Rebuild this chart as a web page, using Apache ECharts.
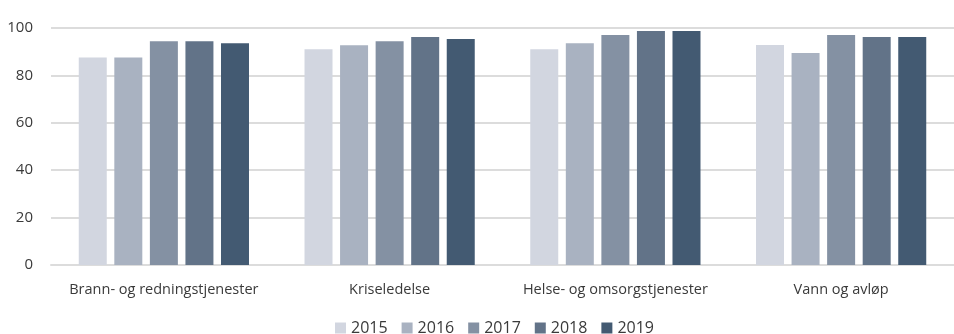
<!DOCTYPE html>
<html><head><meta charset="utf-8">
<script src="https://cdn.jsdelivr.net/npm/echarts@6/dist/echarts.min.js"></script>
<style>html,body{margin:0;padding:0;background:#fff}#c{width:954px;height:334px}</style>
</head><body><div id="c"></div>
<script>
const categories = ['Brann- og redningstjenester', 'Kriseledelse', 'Helse- og omsorgstjenester', 'Vann og avløp'];
const years = ['2015', '2016', '2017', '2018', '2019'];
const v2015 = [87.6, 91.0, 91.0, 92.8];
const v2016 = [87.6, 92.7, 93.6, 89.4];
const v2017 = [94.4, 94.4, 97.0, 97.0];
const v2018 = [94.4, 96.2, 98.7, 96.2];
const v2019 = [93.6, 95.4, 98.7, 96.2];
const yTicks = [0, 20, 40, 60, 80, 100];
const colors = ['#d2d6e0', '#a9b2c1', '#8491a3', '#627388', '#435a72'];
const values = [v2015, v2016, v2017, v2018, v2019];
const font = 'Open Sans';
const chart = echarts.init(document.getElementById('c'));
chart.setOption({
  animation: false,
  grid: { left: 51, right: -4, top: 28, bottom: 69, containLabel: false },
  legend: {
    top: 315, left: 330, itemWidth: 11, itemHeight: 11, itemGap: 14,
    icon: 'rect',
    textStyle: { fontFamily: font, fontSize: 16, color: '#3a3a3a' },
    data: years
  },
  xAxis: {
    type: 'category', data: categories,
    axisLine: { show: true, lineStyle: { color: '#dcdcdc', width: 2 } },
    axisTick: { show: false },
    axisLabel: { fontFamily: font, fontSize: 14.5, color: '#3a3a3a', margin: 17, interval: 0 }
  },
  yAxis: {
    type: 'value', min: yTicks[0], max: yTicks[yTicks.length - 1], interval: 20,
    axisLine: { show: false }, axisTick: { show: false },
    axisLabel: { fontFamily: font, fontSize: 15, color: '#3a3a3a', margin: 18 },
    splitLine: { lineStyle: { color: '#dcdcdc', width: 2 } }
  },
  series: years.map((y, i) => ({
    name: y, type: 'bar', data: values[i],
    barWidth: 28, barGap: '27%',
    itemStyle: { color: colors[i] }
  }))
});
</script></body></html>
